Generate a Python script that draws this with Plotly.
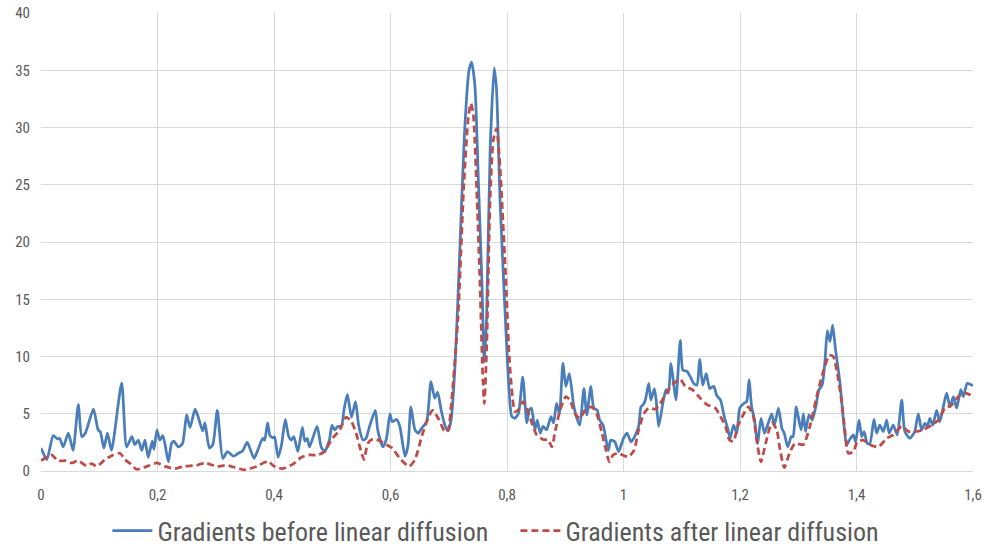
import plotly.graph_objects as go

before_x = [0.000, 0.010, 0.021, 0.028, 0.032, 0.038, 0.047, 0.055, 0.064, 0.070, 0.076, 0.090, 0.098, 0.102,
            0.108, 0.114, 0.121, 0.1385, 0.147, 0.156, 0.161, 0.167, 0.173, 0.1785, 0.184, 0.191, 0.194, 0.199,
            0.204, 0.209, 0.213, 0.2186, 0.224, 0.228, 0.236, 0.243, 0.250, 0.256, 0.2644, 0.270, 0.2776, 0.2815,
            0.289, 0.295, 0.3027, 0.312, 0.320, 0.330, 0.3388, 0.346, 0.354, 0.3657, 0.372, 0.3806, 0.384, 0.389,
            0.393, 0.398, 0.401, 0.407, 0.413, 0.4194, 0.425, 0.4297, 0.434, 0.441, 0.4486, 0.453, 0.457, 0.461,
            0.474, 0.481, 0.487, 0.495, 0.4996, 0.504, 0.510, 0.5156, 0.520, 0.526, 0.533, 0.540, 0.5453, 0.5528,
            0.558, 0.564, 0.574, 0.578, 0.587, 0.593, 0.599, 0.603, 0.6106, 0.616, 0.6249, 0.630, 0.635, 0.642,
            0.6478, 0.653, 0.662, 0.6695, 0.676, 0.681, 0.687, 0.694, 0.699, 0.704, 0.711, 0.719, 0.727, 0.7348,
            0.7393, 0.745, 0.751, 0.757, 0.761, 0.765, 0.771, 0.778, 0.782, 0.788, 0.797, 0.803, 0.808, 0.813,
            0.8195, 0.827, 0.834, 0.838, 0.842, 0.848, 0.852, 0.857, 0.862, 0.868, 0.8755, 0.880, 0.885, 0.890,
            0.896, 0.901, 0.907, 0.914, 0.919, 0.925, 0.932, 0.937, 0.944, 0.949, 0.955, 0.959, 0.965, 0.974,
            0.978, 0.985, 0.9915, 1.000, 1.006, 1.013, 1.020, 1.026, 1.030, 1.034, 1.0375, 1.0433, 1.047, 1.053,
            1.056, 1.0604, 1.068, 1.073, 1.077, 1.0815, 1.086, 1.090, 1.0975, 1.102, 1.109, 1.115, 1.1205, 1.126,
            1.1308, 1.136, 1.142, 1.148, 1.155, 1.160, 1.1665, 1.173, 1.179, 1.183, 1.189, 1.1945, 1.1995, 1.2064,
            1.2114, 1.2155, 1.220, 1.225, 1.230, 1.2361, 1.242, 1.2486, 1.2545, 1.259, 1.266, 1.272, 1.276, 1.282,
            1.288, 1.291, 1.2966, 1.302, 1.305, 1.3087, 1.3125, 1.3185, 1.324, 1.330, 1.3356, 1.341, 1.346, 1.350,
            1.3545, 1.359, 1.364, 1.3717, 1.377, 1.383, 1.389, 1.3946, 1.3986, 1.4043, 1.409, 1.413, 1.4186, 1.423,
            1.430, 1.4346, 1.440, 1.446, 1.4518, 1.456, 1.463, 1.470, 1.4776, 1.483, 1.4918, 1.500, 1.506, 1.5118,
            1.5175, 1.5215, 1.526, 1.531, 1.5376, 1.543, 1.549, 1.5548, 1.5605, 1.5663, 1.572, 1.5789, 1.5835,
            1.590, 1.598, 1.600]
before_y = [2.0, 1.0, 3.1, 2.8, 2.85, 2.1, 3.3, 1.8, 5.8, 3.0, 3.3, 5.4, 3.6, 3.4,
            2.0, 3.3, 1.8, 7.7, 2.1, 3.0, 2.3, 2.7, 1.8, 2.7, 1.2, 2.6, 1.9, 3.6,
            2.7, 3.1, 2.3, 0.8, 2.4, 2.6, 2.1, 2.4, 4.9, 3.8, 5.4, 4.7, 3.5, 4.2,
            2.0, 2.3, 5.3, 1.1, 1.7, 1.3, 1.55, 1.75, 2.5, 1.1, 1.8, 2.85, 2.7, 4.2,
            3.1, 2.9, 3.0, 1.2, 2.3, 4.5, 3.05, 2.7, 3.0, 1.7, 3.8, 2.6, 2.85, 2.1,
            3.9, 2.1, 1.7, 2.7, 4.0, 3.6, 3.9, 3.9, 5.3, 6.7, 4.7, 6.05, 4.0, 2.7,
            2.85, 3.9, 5.3, 3.6, 2.1, 2.8, 5.0, 4.3, 4.5, 3.9, 1.3, 2.2, 5.6, 3.6,
            3.3, 3.7, 4.3, 7.8, 6.35, 6.9, 5.3, 3.9, 3.5, 4.45, 9.4, 19.3, 29.5, 35.0,
            35.7, 33.6, 25.1, 16.4, 9.5, 13.5, 28.0, 35.2, 33.3, 23.7, 13.5, 7.5, 4.8, 4.6,
            5.0, 8.2, 4.2, 5.3, 5.5, 3.6, 4.45, 3.3, 3.9, 3.6, 4.75, 4.2, 5.9, 5.0,
            9.4, 7.4, 8.5, 5.9, 4.75, 4.0, 7.2, 4.9, 7.4, 5.5, 5.3, 4.45, 4.0, 1.8,
            2.7, 2.55, 1.7, 2.85, 3.3, 2.55, 3.1, 3.9, 5.6, 5.8, 6.2, 7.65, 6.2, 7.2,
            6.2, 3.9, 6.05, 7.1, 6.8, 9.4, 7.65, 6.2, 11.4, 8.8, 8.7, 8.2, 7.65, 7.5,
            9.75, 7.5, 8.5, 7.2, 7.4, 6.6, 6.2, 4.75, 3.7, 2.85, 4.0, 3.3, 5.5, 5.9,
            6.05, 7.95, 5.6, 4.45, 2.4, 4.6, 3.3, 4.2, 5.0, 4.0, 5.5, 3.7, 3.3, 2.1,
            3.0, 3.0, 5.6, 4.2, 3.6, 5.0, 3.45, 4.9, 4.45, 5.6, 7.1, 7.5, 9.7, 12.25,
            11.3, 12.75, 10.6, 7.65, 4.75, 2.3, 2.8, 3.15, 2.55, 4.45, 3.0, 3.45, 2.4, 2.4,
            4.5, 3.3, 4.0, 3.45, 4.45, 3.3, 4.0, 3.15, 6.2, 3.45, 2.85, 3.45, 5.0, 3.6,
            4.15, 3.9, 4.6, 4.0, 5.3, 4.3, 5.6, 6.8, 5.6, 6.5, 5.5, 7.1, 6.5,
            7.65, 7.5, 7.5]

after_x = [0.000, 0.018, 0.029, 0.043, 0.052, 0.064, 0.078, 0.087, 0.0955, 0.110, 0.124, 0.1356, 0.144, 0.153,
           0.164, 0.176, 0.187, 0.199, 0.213, 0.230, 0.244, 0.267, 0.2815, 0.3016, 0.3188, 0.333, 0.350, 0.370,
           0.390, 0.399, 0.407, 0.414, 0.4326, 0.447, 0.461, 0.4755, 0.487, 0.498, 0.513, 0.524, 0.533, 0.541,
           0.549, 0.5545, 0.561, 0.570, 0.579, 0.593, 0.603, 0.616, 0.632, 0.642, 0.6535, 0.662, 0.672, 0.682,
           0.6936, 0.699, 0.705, 0.716, 0.726, 0.7336, 0.738, 0.742, 0.748, 0.7536, 0.758, 0.761, 0.765, 0.771,
           0.7765, 0.782, 0.788, 0.797, 0.805, 0.8137, 0.819, 0.827, 0.834, 0.842, 0.851, 0.862, 0.871, 0.877,
           0.882, 0.891, 0.901, 0.908, 0.9167, 0.925, 0.934, 0.9455, 0.954, 0.9625, 0.970, 0.9757, 0.982, 0.991,
           1.0026, 1.009, 1.018, 1.026, 1.035, 1.0433, 1.0546, 1.0632, 1.0747, 1.0862, 1.0975, 1.106, 1.118, 1.132,
           1.1433, 1.1576, 1.1665, 1.175, 1.182, 1.189, 1.196, 1.2064, 1.2143, 1.2229, 1.2286, 1.236, 1.244, 1.2545,
           1.263, 1.268, 1.276, 1.285, 1.2944, 1.3087, 1.320, 1.3316, 1.343, 1.3533, 1.360, 1.366, 1.3734, 1.380,
           1.3859, 1.3945, 1.4014, 1.4117, 1.423, 1.4375, 1.4518, 1.463, 1.4776, 1.489, 1.503, 1.5147, 1.529, 1.5405,
           1.5519, 1.563, 1.5748, 1.5863, 1.5949, 1.600]
after_y = [0.9, 1.4, 0.9, 0.9, 0.7, 0.9, 0.45, 0.65, 0.4, 1.0, 1.4, 1.55, 1.0, 0.65,
           0.15, 0.3, 0.5, 0.7, 0.4, 0.2, 0.4, 0.5, 0.7, 0.4, 0.5, 0.3, 0.1, 0.4,
           0.85, 0.45, 0.3, 0.2, 0.6, 1.2, 1.4, 1.4, 1.7, 2.7, 3.6, 4.7, 4.3, 3.3,
           1.8, 1.0, 2.4, 2.8, 2.7, 2.3, 2.0, 1.1, 0.4, 1.0, 3.0, 4.3, 5.3, 4.6,
           3.4, 3.6, 6.2, 13.5, 25.1, 30.9, 32.1, 31.2, 24.5, 16.4, 8.8, 5.9, 10.6, 23.7,
           28.9, 29.9, 26.6, 17.8, 9.1, 5.2, 5.3, 6.05, 5.5, 4.3, 3.15, 2.75, 2.7, 2.1,
           3.3, 5.3, 6.5, 6.2, 5.0, 4.6, 5.3, 5.6, 5.0, 3.4, 1.8, 0.8, 1.4, 1.55,
           1.3, 1.25, 1.8, 3.6, 5.0, 5.5, 5.4, 5.9, 6.9, 7.65, 8.0, 7.4, 7.1, 6.35,
           5.8, 5.5, 4.75, 3.9, 2.7, 2.6, 3.9, 5.0, 5.6, 4.75, 2.7, 0.8, 2.4, 4.2,
           3.6, 2.1, 0.3, 1.55, 2.4, 2.3, 3.9, 6.5, 8.7, 10.1, 10.0, 8.8, 6.5, 3.6,
           1.55, 1.7, 2.55, 2.7, 2.3, 2.1, 2.85, 3.15, 3.9, 3.45, 3.45, 3.6, 4.0, 4.45,
           5.5, 5.75, 6.5, 6.8, 6.65, 6.4]

x_tick_vals = [0, 0.2, 0.4, 0.6, 0.8, 1.0, 1.2, 1.4, 1.6]
x_tick_text = ["0", "0,2", "0,4", "0,6", "0,8", "1", "1,2", "1,4", "1,6"]
y_tick_vals = [0, 5, 10, 15, 20, 25, 30, 35, 40]

series_names = ["Gradients before linear diffusion", "Gradients after linear diffusion"]

FONT = "Liberation Sans Narrow, Arial Narrow, Roboto Condensed, Liberation Sans, sans-serif"

fig = go.Figure()
fig.add_trace(go.Scatter(
    x=before_x, y=before_y, mode="lines", name=series_names[0],
    line=dict(color="#4a7ebb", width=2.75, shape="spline", smoothing=0.6),
))
fig.add_trace(go.Scatter(
    x=after_x, y=after_y, mode="lines", name=series_names[1],
    line=dict(color="#be4b48", width=2.75, shape="spline", smoothing=0.6, dash="7px,4px"),
))

fig.update_layout(
    width=987, height=550,
    margin=dict(l=41, r=14, t=13, b=79, autoexpand=False),
    paper_bgcolor="white", plot_bgcolor="white",
    font=dict(family=FONT, color="#595959", size=15),
    showlegend=True,
    legend=dict(orientation="h", x=0.1088, xanchor="left", xref="container",
                y=0.035, yanchor="middle", yref="container",
                font=dict(size=26, color="#595959"), itemwidth=40,
                entrywidth=353, entrywidthmode="pixels"),
)
fig.update_xaxes(
    range=[0, 1.6], tickvals=x_tick_vals, ticktext=x_tick_text,
    showgrid=True, gridcolor="#d9d9d9", gridwidth=1,
    showline=True, linecolor="#d9d9d9", linewidth=1,
    zeroline=False, ticks="", ticklabelstandoff=10, automargin=False,
    tickfont=dict(size=15, color="#595959"),
)
fig.update_yaxes(
    range=[0, 40], tickvals=y_tick_vals,
    showgrid=True, gridcolor="#d9d9d9", gridwidth=1,
    showline=False, zeroline=False, ticks="", ticklabelstandoff=10, automargin=False,
    tickfont=dict(size=15, color="#595959"),
)

fig.write_html("out.html")
